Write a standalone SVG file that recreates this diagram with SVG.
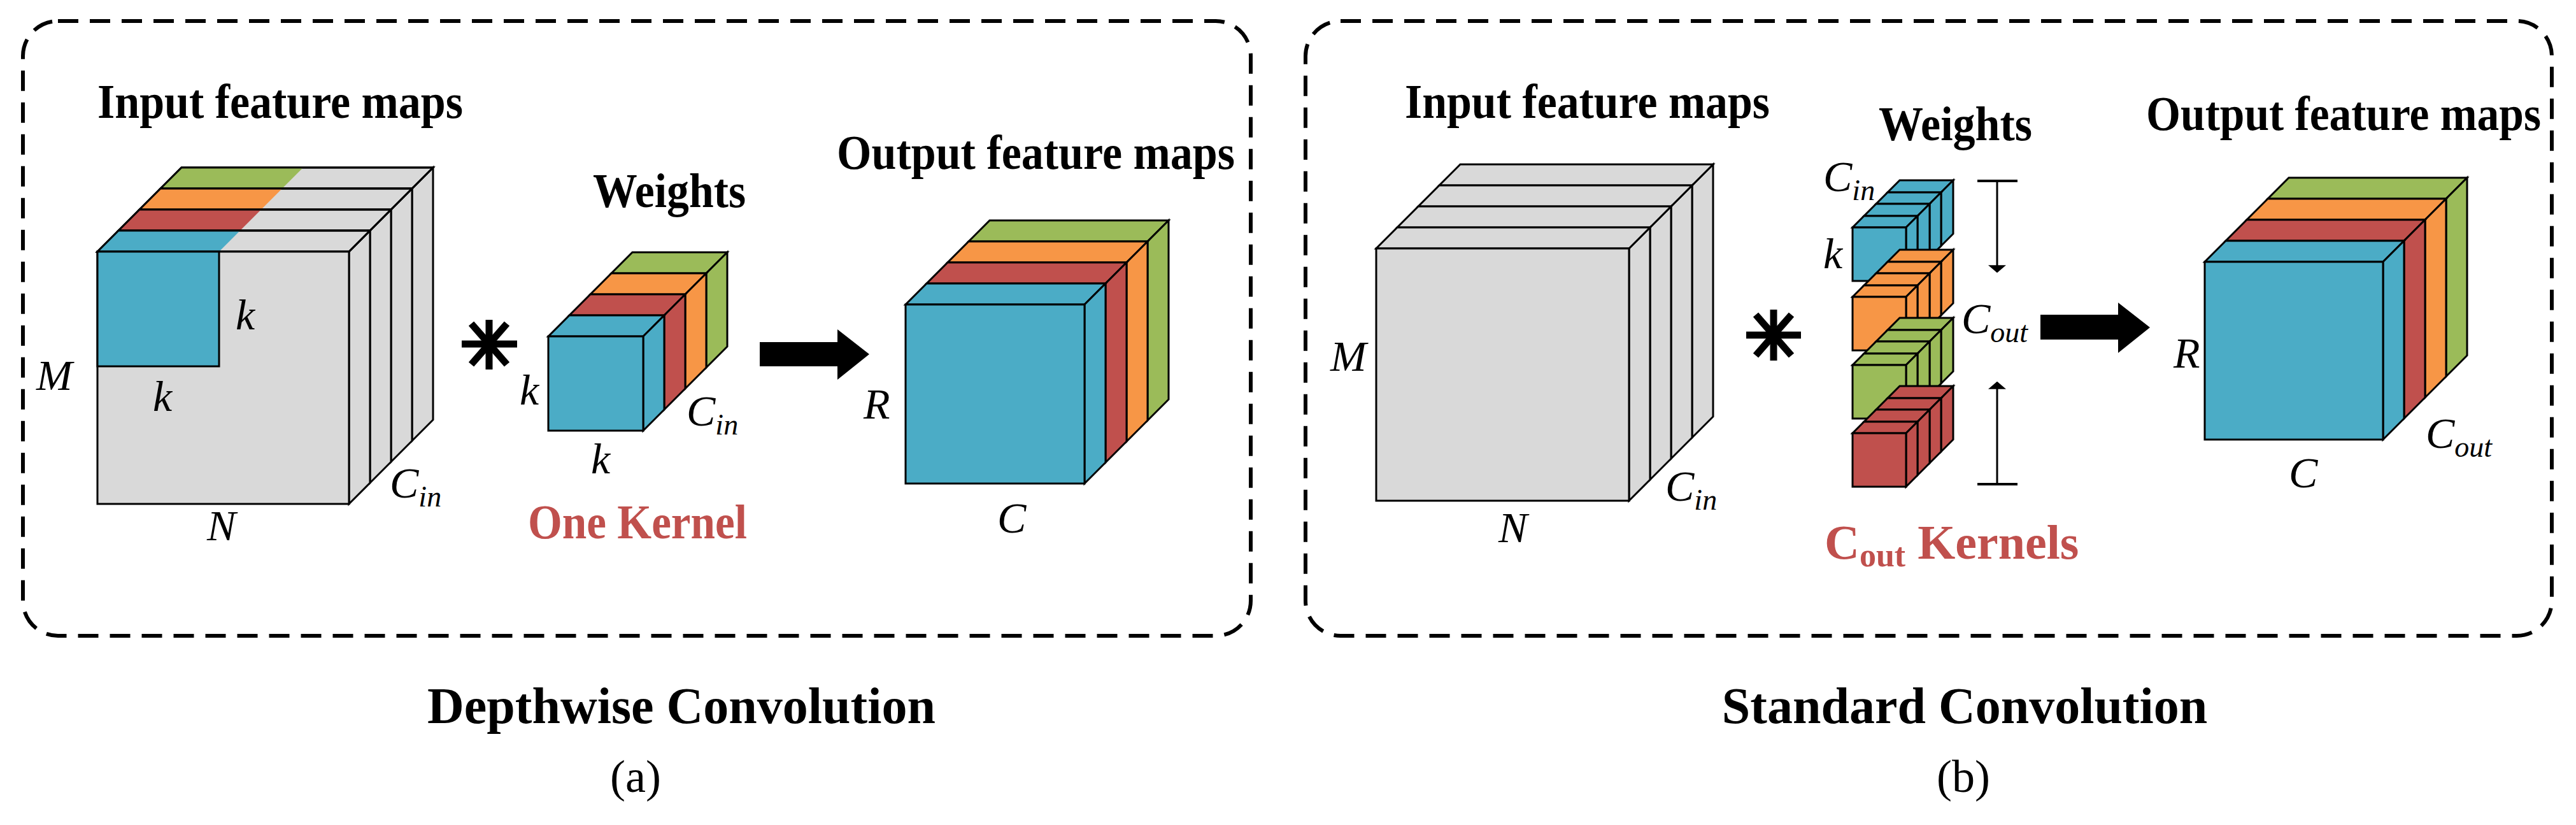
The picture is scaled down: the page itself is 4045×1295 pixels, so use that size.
<svg xmlns="http://www.w3.org/2000/svg" width="4045" height="1295" viewBox="0 0 4045 1295">
<style>
.s{stroke:#000;stroke-width:3;stroke-linejoin:miter}
.g{fill:#d9d9d9}.b{fill:#4bacc6}.r{fill:#c0504d}.o{fill:#f79646}.gr{fill:#9bbb59}
.box{fill:none;stroke:#000;stroke-width:6;stroke-dasharray:32 18}
.lb{font-family:"Liberation Serif","Times New Roman",serif;font-weight:bold;font-size:76px}
.it{font-family:"Liberation Serif","Times New Roman",serif;font-style:italic;font-size:68px}
.cap{font-family:"Liberation Serif","Times New Roman",serif;font-weight:bold;font-size:80px}
.sub{font-size:46px}
</style>
<defs>
<marker id="ah2" viewBox="0 0 10 10" refX="9" refY="5" markerWidth="12" markerHeight="28" orient="auto" markerUnits="userSpaceOnUse" preserveAspectRatio="none"><path d="M0,0L10,5L0,10z"/></marker>
</defs>
<rect class="box" x="36" y="33" width="1928" height="965" rx="55"/>
<rect class="box" x="2050" y="33" width="1957" height="965" rx="55"/>

<g id="input-a">
<polygon class="s g" points="647,296 680,263 680,659 647,692"/>
<polygon class="s g" points="252,296 647,296 680,263 285,263"/>
<polygon class="gr" points="252,296 443,296 476,263 285,263"/>
<polygon class="s" fill="none" points="252,296 647,296 680,263 285,263"/>
<polygon class="s g" points="614,329 647,296 647,692 614,725"/>
<polygon class="s g" points="219,329 614,329 647,296 252,296"/>
<polygon class="o" points="219,329 410,329 443,296 252,296"/>
<polygon class="s" fill="none" points="219,329 614,329 647,296 252,296"/>
<polygon class="s g" points="581,362 614,329 614,725 581,758"/>
<polygon class="s g" points="186,362 581,362 614,329 219,329"/>
<polygon class="r" points="186,362 377,362 410,329 219,329"/>
<polygon class="s" fill="none" points="186,362 581,362 614,329 219,329"/>
<polygon class="s g" points="548,395 581,362 581,758 548,791"/>
<polygon class="s g" points="153,395 548,395 581,362 186,362"/>
<polygon class="b" points="153,395 344,395 377,362 186,362"/>
<polygon class="s" fill="none" points="153,395 548,395 581,362 186,362"/>
<rect class="s g" x="153" y="395" width="395" height="396"/>
<rect class="s b" x="153" y="395" width="191" height="180"/>
<text class="lb" x="153" y="185" textLength="574" lengthAdjust="spacingAndGlyphs">Input feature maps</text>
<text class="it" x="370" y="517">k</text>
<text class="it" x="240" y="645">k</text>
<text class="it" x="57" y="612">M</text>
<text class="it" x="325" y="848">N</text>
<text class="it" x="612" y="781">C<tspan class="sub" dy="14">in</tspan></text>
</g>

<g id="kernel-a">
<polygon class="s gr" points="960,429 1109,429 1142,396 993,396"/>
<polygon class="s gr" points="1109,429 1142,396 1142,544 1109,577"/>
<polygon class="s o" points="927,462 1076,462 1109,429 960,429"/>
<polygon class="s o" points="1076,462 1109,429 1109,577 1076,610"/>
<polygon class="s r" points="894,495 1043,495 1076,462 927,462"/>
<polygon class="s r" points="1043,495 1076,462 1076,610 1043,643"/>
<polygon class="s b" points="861,528 1010,528 1043,495 894,495"/>
<polygon class="s b" points="1010,528 1043,495 1043,643 1010,676"/>
<rect class="s b" x="861" y="528" width="149" height="148"/>
<text class="lb" x="931" y="325" textLength="240" lengthAdjust="spacingAndGlyphs">Weights</text>
<text class="it" x="816" y="635">k</text>
<text class="it" x="928" y="743">k</text>
<text class="it" x="1078" y="668">C<tspan class="sub" dy="14">in</tspan></text>
<text class="lb" x="829" y="845" fill="#c0504d" textLength="344" lengthAdjust="spacingAndGlyphs">One Kernel</text>
</g>

<g id="output-a">
<polygon class="s gr" points="1521,379 1802,379 1835,346 1554,346"/>
<polygon class="s gr" points="1802,379 1835,346 1835,627 1802,660"/>
<polygon class="s o" points="1488,412 1769,412 1802,379 1521,379"/>
<polygon class="s o" points="1769,412 1802,379 1802,660 1769,693"/>
<polygon class="s r" points="1455,445 1736,445 1769,412 1488,412"/>
<polygon class="s r" points="1736,445 1769,412 1769,693 1736,726"/>
<polygon class="s b" points="1422,478 1703,478 1736,445 1455,445"/>
<polygon class="s b" points="1703,478 1736,445 1736,726 1703,759"/>
<rect class="s b" x="1422" y="478" width="281" height="281"/>
<text class="lb" x="1314" y="265" textLength="625" lengthAdjust="spacingAndGlyphs">Output feature maps</text>
<text class="it" x="1356" y="657">R</text>
<text class="it" x="1566" y="836">C</text>
</g>

<g id="input-b">
<polygon class="s g" points="2657,291 2690,258 2690,654 2657,687"/>
<polygon class="s g" points="2260,291 2657,291 2690,258 2293,258"/>
<polygon class="s g" points="2624,324 2657,291 2657,687 2624,720"/>
<polygon class="s g" points="2227,324 2624,324 2657,291 2260,291"/>
<polygon class="s g" points="2591,357 2624,324 2624,720 2591,753"/>
<polygon class="s g" points="2194,357 2591,357 2624,324 2227,324"/>
<polygon class="s g" points="2558,390 2591,357 2591,753 2558,786"/>
<polygon class="s g" points="2161,390 2558,390 2591,357 2194,357"/>
<rect class="s g" x="2161" y="390" width="397" height="396"/>
<text class="lb" x="2206" y="185" textLength="573" lengthAdjust="spacingAndGlyphs">Input feature maps</text>
<text class="it" x="2089" y="582">M</text>
<text class="it" x="2353" y="851">N</text>
<text class="it" x="2615" y="786">C<tspan class="sub" dy="14">in</tspan></text>
</g>

<g id="kernels-b">
<g id="kb-blue" class="b">
<polygon class="s" points="2964,302 3048,302 3067,283 2983,283"/><polygon class="s" points="3048,302 3067,283 3067,367 3048,386"/>
<polygon class="s" points="2946,320 3030,320 3048,302 2964,302"/><polygon class="s" points="3030,320 3048,302 3048,386 3030,404"/>
<polygon class="s" points="2927,339 3011,339 3030,320 2946,320"/><polygon class="s" points="3011,339 3030,320 3030,404 3011,423"/>
<polygon class="s" points="2909,357 2993,357 3011,339 2927,339"/><polygon class="s" points="2993,357 3011,339 3011,423 2993,441"/>
<rect class="s" x="2909" y="357" width="84" height="84"/>
</g>
<g id="kb-orange" class="o">
<polygon class="s" points="2964,411 3048,411 3067,392 2983,392"/><polygon class="s" points="3048,411 3067,392 3067,476 3048,495"/>
<polygon class="s" points="2946,429 3030,429 3048,411 2964,411"/><polygon class="s" points="3030,429 3048,411 3048,495 3030,513"/>
<polygon class="s" points="2927,448 3011,448 3030,429 2946,429"/><polygon class="s" points="3011,448 3030,429 3030,513 3011,532"/>
<polygon class="s" points="2909,466 2993,466 3011,448 2927,448"/><polygon class="s" points="2993,466 3011,448 3011,532 2993,550"/>
<rect class="s" x="2909" y="466" width="84" height="84"/>
</g>
<g id="kb-green" class="gr">
<polygon class="s" points="2964,518 3048,518 3067,499 2983,499"/><polygon class="s" points="3048,518 3067,499 3067,583 3048,602"/>
<polygon class="s" points="2946,536 3030,536 3048,518 2964,518"/><polygon class="s" points="3030,536 3048,518 3048,602 3030,620"/>
<polygon class="s" points="2927,555 3011,555 3030,536 2946,536"/><polygon class="s" points="3011,555 3030,536 3030,620 3011,639"/>
<polygon class="s" points="2909,573 2993,573 3011,555 2927,555"/><polygon class="s" points="2993,573 3011,555 3011,639 2993,657"/>
<rect class="s" x="2909" y="573" width="84" height="84"/>
</g>
<g id="kb-red" class="r">
<polygon class="s" points="2964,625 3048,625 3067,606 2983,606"/><polygon class="s" points="3048,625 3067,606 3067,690 3048,709"/>
<polygon class="s" points="2946,643 3030,643 3048,625 2964,625"/><polygon class="s" points="3030,643 3048,625 3048,709 3030,727"/>
<polygon class="s" points="2927,662 3011,662 3030,643 2946,643"/><polygon class="s" points="3011,662 3030,643 3030,727 3011,746"/>
<polygon class="s" points="2909,680 2993,680 3011,662 2927,662"/><polygon class="s" points="2993,680 3011,662 3011,746 2993,764"/>
<rect class="s" x="2909" y="680" width="84" height="84"/>
</g>
<text class="lb" x="2950" y="220" textLength="241" lengthAdjust="spacingAndGlyphs">Weights</text>
<text class="it" x="2863" y="300">C<tspan class="sub" dy="14">in</tspan></text>
<text class="it" x="2863" y="421">k</text>
<text class="it" x="3080" y="523">C<tspan class="sub" dy="14">out</tspan></text>
<text class="lb" x="2865" y="877" fill="#c0504d">C<tspan font-size="52" dy="12">out</tspan><tspan dy="-12"> Kernels</tspan></text>
</g>

<g id="output-b">
<polygon class="s gr" points="3561,312 3841,312 3874,279 3594,279"/>
<polygon class="s gr" points="3841,312 3874,279 3874,558 3841,591"/>
<polygon class="s o" points="3528,345 3808,345 3841,312 3561,312"/>
<polygon class="s o" points="3808,345 3841,312 3841,591 3808,624"/>
<polygon class="s r" points="3495,378 3775,378 3808,345 3528,345"/>
<polygon class="s r" points="3775,378 3808,345 3808,624 3775,657"/>
<polygon class="s b" points="3462,411 3742,411 3775,378 3495,378"/>
<polygon class="s b" points="3742,411 3775,378 3775,657 3742,690"/>
<rect class="s b" x="3462" y="411" width="280" height="279"/>
<text class="lb" x="3370" y="204" textLength="620" lengthAdjust="spacingAndGlyphs">Output feature maps</text>
<text class="it" x="3413" y="577">R</text>
<text class="it" x="3594" y="765">C</text>
<text class="it" x="3809" y="703">C<tspan class="sub" dy="14">out</tspan></text>
</g>

<g id="connectors">
<g stroke="#000" stroke-width="11" stroke-linecap="butt">
<line x1="768" y1="502" x2="768" y2="580"/><line x1="725" y1="540" x2="812" y2="540"/>
<line x1="740" y1="508" x2="796" y2="572"/><line x1="796" y1="508" x2="740" y2="572"/>
<line x1="2785" y1="486" x2="2785" y2="566"/><line x1="2742" y1="526" x2="2828" y2="526"/>
<line x1="2757" y1="494" x2="2813" y2="558"/><line x1="2813" y1="494" x2="2757" y2="558"/>
</g>
<polygon points="1193,537 1315,537 1315,517 1365,556 1315,596 1315,575 1193,575"/>
<polygon points="3204,494 3326,494 3326,475 3376,514 3326,554 3326,533 3204,533"/>
<g stroke="#000" stroke-width="3">
<line x1="3105" y1="284" x2="3168" y2="284" stroke-width="4"/>
<line x1="3136" y1="284" x2="3136" y2="427" marker-end="url(#ah2)"/>
<line x1="3105" y1="760" x2="3168" y2="760" stroke-width="4"/>
<line x1="3136" y1="760" x2="3136" y2="600" marker-end="url(#ah2)"/>
</g>
</g>

<text class="cap" x="1070" y="1135" text-anchor="middle">Depthwise Convolution</text>
<text font-family="Liberation Serif,serif" font-size="72" x="998" y="1243" text-anchor="middle">(a)</text>
<text class="cap" x="3085" y="1135" text-anchor="middle">Standard Convolution</text>
<text font-family="Liberation Serif,serif" font-size="72" x="3083" y="1243" text-anchor="middle">(b)</text>
</svg>
